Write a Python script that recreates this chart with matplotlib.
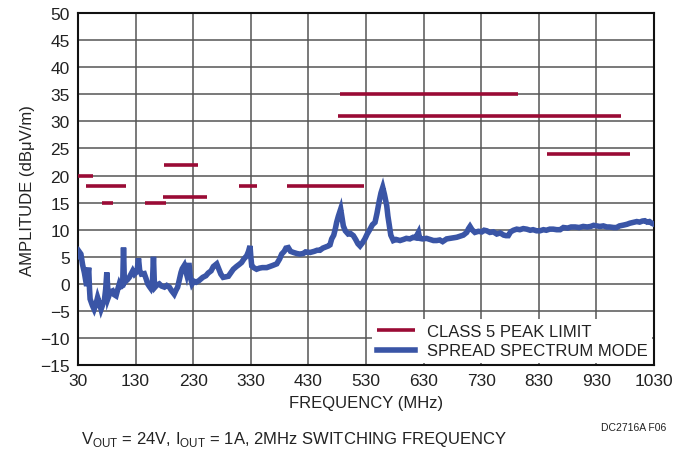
import matplotlib
matplotlib.use("Agg")
import matplotlib.pyplot as plt

plt.rcParams['font.family'] = ['Liberation Sans', 'DejaVu Sans']
plt.rcParams['mathtext.fontset'] = 'custom'
plt.rcParams['mathtext.rm'] = 'Liberation Sans'

# class 5 peak limit segments (MHz, dBuV/m)
lim_start = [30, 44, 71, 147, 179, 178, 310, 392, 485, 482, 845]
lim_end = [56, 113, 91, 182, 238, 254, 341, 527, 793, 972, 988]
lim_level = [20, 18, 15, 15, 22, 16, 18, 18, 35, 31, 24]

freq = [31, 33, 35, 38, 41, 45, 48.5, 50, 51, 55, 58, 61, 64, 67, 70, 73, 75.7, 78,
        80, 82.6, 86, 90, 93, 96, 99, 101.7, 104, 107.5, 109, 110.5, 113, 116, 119,
        122, 125, 128, 130.7, 133, 135, 137, 140, 145, 148, 151, 154, 156.7, 159,
        161, 162.5, 163.7, 167, 171, 175, 180, 184, 188.5, 192, 197, 200, 203, 206,
        208.8, 211, 214.5, 218, 220, 223, 225, 228, 231, 235, 240, 246.5, 252, 256,
        261, 265, 270.8, 275, 278, 282, 287, 291, 295, 299.6, 305, 310, 314, 318,
        323, 326, 328.6, 330, 331.6, 335, 340, 345, 350, 357.6, 363, 368, 375, 380,
        383.6, 388, 391, 395, 399, 404, 410, 415, 421, 425, 433, 440, 445, 450, 455,
        460, 464.6, 467.5, 470.4, 474, 477, 479, 482, 486, 488, 490.6, 494, 499, 503,
        508, 512, 516, 519.6, 524, 528, 532, 537, 541, 545.6, 549, 553, 556, 559,
        562, 566, 568, 570.5, 573, 577.4, 582, 589, 595, 600, 606, 612, 616, 621,
        623, 628, 635, 641, 647, 652.7, 658, 663, 670, 676, 682, 687.5, 693, 699,
        704.8, 708, 710.5, 714, 719, 725, 731, 735, 739.5, 745, 751, 757, 763, 769,
        773, 777, 781, 786, 791.6, 797, 803, 809, 815, 820, 826, 832, 838, 843, 849,
        855, 861, 867, 872.6, 880, 886, 893, 900, 907, 914, 920, 925, 930.5, 936,
        942, 948, 953, 960, 965, 970, 977, 983, 988, 994, 1000, 1005, 1010, 1014,
        1018, 1022, 1026, 1030]
amp = [5.0, 5.8, 5.5, 3.5, 2.1, -0.4, 3.0, -1.0, -2.8, -4.0, -4.7, -3.8, -2.5, -3.5,
       -4.7, -3.8, -3.1, -1.0, 2.1, -2.5, -1.5, -1.3, -2.0, -2.2, -1.0, 0.0, -0.5,
       -0.3, 6.7, 0.2, 0.5, 0.8, 1.2, 1.8, 2.4, 1.8, 2.1, 2.8, 4.7, 2.5, 1.8, 1.9,
       1.0, 0.0, -0.5, -0.9, -0.3, 5.0, 0.2, -0.6, -0.2, 0.0, -0.4, -0.6, -0.3, -0.6,
       -1.2, -1.9, -1.2, -0.6, 0.8, 2.1, 2.8, 3.4, 2.0, 3.4, 3.4, 1.2, 0.0, 0.5, 0.3,
       0.6, 1.2, 1.5, 2.0, 2.4, 3.2, 3.7, 2.6, 1.8, 1.2, 1.3, 1.4, 2.0, 2.7, 3.2, 3.6,
       3.95, 4.6, 5.2, 6.0, 7.0, 5.0, 3.3, 3.0, 2.7, 2.9, 3.0, 3.0, 3.2, 3.4, 3.7,
       4.6, 5.5, 6.0, 6.6, 6.7, 6.0, 5.8, 5.6, 5.5, 5.6, 5.9, 5.8, 6.0, 6.2, 6.2,
       6.6, 6.8, 7.0, 7.2, 8.3, 9.0, 10.3, 11.35, 12.5, 13.8, 12.5, 10.7, 9.8, 9.2,
       9.3, 8.9, 8.2, 7.4, 7.0, 7.6, 8.3, 9.2, 10.1, 10.9, 11.35, 13.0, 15.3, 16.8,
       17.8, 16.5, 14.4, 12.5, 10.7, 9.0, 8.0, 8.2, 8.0, 8.2, 8.4, 8.3, 8.6, 8.5,
       9.5, 8.4, 8.3, 8.4, 8.2, 8.0, 8.0, 8.1, 7.8, 8.3, 8.4, 8.5, 8.6, 8.8, 9.0,
       9.5, 10.2, 10.6, 10.0, 9.5, 9.7, 9.6, 9.9, 9.8, 9.5, 9.6, 9.2, 9.4, 9.0, 8.9,
       8.9, 9.6, 9.9, 10.1, 10.0, 10.2, 10.1, 9.9, 10.0, 9.8, 9.8, 10.0, 9.9, 10.1,
       10.1, 10.0, 10.0, 10.4, 10.3, 10.5, 10.5, 10.4, 10.6, 10.5, 10.6, 10.8, 10.7,
       10.6, 10.7, 10.5, 10.5, 10.4, 10.4, 10.7, 10.85, 11.0, 11.2, 11.35, 11.5,
       11.4, 11.6, 11.65, 11.4, 11.5, 11.2, 11.0]

xticks = [30, 130, 230, 330, 430, 530, 630, 730, 830, 930, 1030]
yticks = [-15, -10, -5, 0, 5, 10, 15, 20, 25, 30, 35, 40, 45, 50]

red = '#9a0b35'
blue = '#3a55a6'

fig = plt.figure(figsize=(6.91, 4.52), dpi=100)
ax = fig.add_axes([0.1129, 0.19, 0.8336, 0.779])

ax.hlines(lim_level, lim_start, lim_end, color=red, lw=2.6, zorder=3,
          label='CLASS 5 PEAK LIMIT')
ax.plot(freq, amp, color=blue, lw=4, solid_joinstyle='miter', zorder=4,
        label='SPREAD SPECTRUM MODE')

ax.set_xlim(30, 1030)
ax.set_ylim(-15, 50)
ax.set_xticks(xticks)
ax.set_yticks(yticks)
ax.set_yticklabels([str(v).replace('-', '\u2212') for v in yticks])
ax.tick_params(length=0, labelsize=12.5, pad=6, colors='#222')
ax.grid(True, color='#555', lw=1.1)
ax.set_axisbelow(True)
for s in ax.spines.values():
    s.set_linewidth(1.5)
    s.set_color('#111')

ax.set_xlabel('FREQUENCY (MHz)', fontsize=12, color='#222', labelpad=5)
ax.set_ylabel('AMPLITUDE (dB\u03bcV/m)', fontsize=12, color='#222', labelpad=4)

leg = ax.legend(loc='lower right', fontsize=12, frameon=True, fancybox=False,
                framealpha=1, edgecolor='none', borderaxespad=0.1,
                handlelength=2.3, handletextpad=0.7, labelspacing=0.25,
                borderpad=0.3)
for t in leg.get_texts():
    t.set_color('#222')

fig.text(0.117, 0.018, r'V$_{\mathregular{OUT}}$ = 24V, I$_{\mathregular{OUT}}$ = 1A, 2MHz SWITCHING FREQUENCY',
         fontsize=12, color='#222')
fig.text(0.87, 0.047, 'DC2716A F06', fontsize=7.5, color='#222')

fig.savefig('out.png', dpi=100)
